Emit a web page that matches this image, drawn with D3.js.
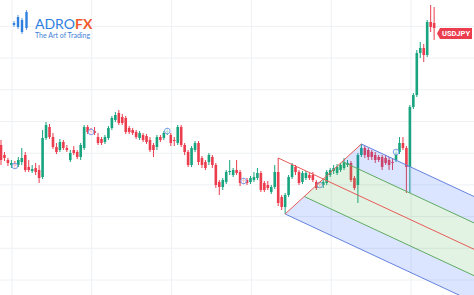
<!DOCTYPE html>
<html>
<head>
<meta charset="utf-8">
<script src="https://cdn.jsdelivr.net/npm/d3@7"></script>
<style>
body { margin: 0; background: #fff; }
svg { display: block; }
</style>
</head>
<body>
<div id="chart"></div>
<script>
const W = 474, H = 295;

// USDJPY candles, oldest first
const open = [146.20,145.80,145.60,145.40,145.48,145.40,145.52,145.80,145.32,145.16,
  145.28,145.20,144.92,146.48,146.92,146.52,146.12,146.00,146.32,146.08,
  145.60,146.00,145.92,145.72,146.08,146.92,146.76,146.76,146.52,146.44,
  146.32,146.48,146.88,147.20,147.48,147.32,147.28,146.88,146.80,146.72,
  146.48,146.60,146.56,146.40,146.20,146.12,146.52,146.48,146.72,146.60,
  146.40,146.28,146.92,146.20,145.92,145.40,146.00,146.28,145.68,145.52,
  145.52,145.72,145.40,144.72,144.52,144.72,145.12,145.00,145.20,145.12,
  144.80,144.80,144.72,144.80,144.88,145.08,144.68,144.60,144.32,144.52,
  145.12,144.12,143.72,144.20,144.92,145.32,145.12,144.72,144.88,145.00,
  145.00,144.72,144.64,144.60,144.68,145.00,145.16,145.08,145.20,145.28,
  145.40,145.48,144.88,144.60,145.80,146.08,146.00,145.92,145.80,145.72,
  145.72,145.68,145.60,145.52,145.60,145.92,146.28,146.08,145.32,147.72,
  148.20,149.88,150.08,149.80,151.12,151.08];
const high = [146.40,145.92,145.68,145.60,145.56,145.72,146.08,145.92,145.60,145.40,
  145.48,145.40,146.80,147.12,147.04,146.68,146.28,146.44,146.40,146.20,
  146.00,146.16,146.00,146.28,147.00,147.00,146.88,146.92,146.68,146.52,
  146.60,146.96,147.36,147.52,147.60,147.44,147.36,146.96,146.88,146.80,
  146.76,146.68,146.64,146.52,146.28,146.60,146.60,146.76,146.88,146.68,
  146.52,147.00,147.00,146.28,146.00,146.16,146.36,146.36,145.76,145.60,
  145.88,145.80,145.48,144.80,144.88,145.20,145.60,145.28,145.60,145.20,
  144.88,144.88,144.96,145.12,145.28,145.16,144.76,144.76,144.60,145.40,
  145.68,144.20,144.28,145.00,145.48,145.40,145.20,145.16,145.16,145.08,
  145.12,144.80,144.72,144.80,145.20,145.28,145.40,145.44,145.48,145.68,
  145.60,145.56,144.96,145.88,146.24,146.16,146.08,146.00,145.92,145.80,
  145.80,145.80,145.72,145.68,146.00,146.52,146.52,146.16,147.80,148.28,
  150.00,150.32,150.24,151.20,151.80,151.72];
const low = [145.40,145.56,145.36,145.28,145.24,145.32,145.40,145.12,145.12,145.08,
  145.00,144.68,144.84,146.40,146.44,146.04,145.84,145.92,146.00,145.92,
  145.52,145.80,145.64,145.60,146.00,146.64,146.64,146.60,146.20,146.20,
  146.24,146.40,146.80,147.12,147.00,147.00,146.64,146.64,146.60,146.44,
  146.40,146.32,146.24,145.92,145.72,146.00,146.32,146.40,146.60,146.16,
  146.16,146.20,146.12,145.80,145.32,145.32,145.92,145.40,145.28,145.20,
  145.40,145.28,144.48,144.20,144.40,144.64,145.00,144.92,145.00,144.56,
  144.64,144.60,144.64,144.72,144.80,144.32,144.32,144.40,144.24,144.44,
  143.76,143.60,143.44,144.12,144.84,145.00,144.60,144.64,144.80,144.80,
  144.72,144.40,144.52,144.48,144.60,144.92,145.04,145.00,145.12,145.20,
  145.32,144.72,144.40,143.88,145.72,145.68,145.60,145.60,145.48,145.52,
  145.20,145.40,145.20,145.20,145.52,145.84,146.00,144.28,144.28,147.64,
  148.12,149.68,149.52,149.72,150.72,150.40];
const close = [145.60,145.68,145.48,145.48,145.36,145.60,145.68,145.20,145.20,145.24,
  145.12,144.88,146.48,147.00,146.52,146.12,145.92,146.32,146.08,146.00,
  145.88,145.88,145.72,146.20,146.92,146.72,146.72,146.68,146.28,146.28,
  146.52,146.88,147.28,147.40,147.08,147.08,146.72,146.72,146.68,146.52,
  146.68,146.40,146.32,146.00,146.00,146.52,146.40,146.68,146.76,146.28,
  146.36,146.92,146.20,145.92,145.40,146.08,146.28,145.52,145.40,145.28,
  145.80,145.40,144.60,144.52,144.80,145.12,145.16,145.20,145.08,144.68,
  144.76,144.68,144.88,144.92,145.08,144.40,144.40,144.48,144.52,145.12,
  143.88,143.72,144.20,144.92,145.40,145.12,144.68,145.08,145.08,144.88,
  144.80,144.48,144.60,144.72,145.12,145.20,145.28,145.32,145.40,145.52,
  145.48,144.80,144.48,145.80,146.08,145.80,145.72,145.72,145.60,145.60,
  145.32,145.48,145.40,145.48,145.92,146.28,146.08,145.32,147.72,148.20,
  149.88,150.08,149.80,151.12,150.92,150.88];

// small event markers (candle index)
const markerIdx = [4, 26, 48, 70, 92, 114];

// pitchfork anchors: handle, low, high
const forkIdx = [80, 82, 104];
const forkPrice = [145.68, 143.44, 146.24];

const symbol = 'USDJPY';
const brand = ['ADRO', 'FX'];
const tagline = 'The Art of Trading';

const UP = '#17a47f', DOWN = '#ec3d4f';

const svg = d3.select('#chart').append('svg')
  .attr('width', W).attr('height', H);

const x = d3.scaleLinear().domain([0, open.length - 1]).range([1, 1 + (open.length - 1) * 3.465]);
const y = d3.scaleLinear().domain([152, 140.2]).range([0, H]);

// grid
const grid = svg.append('g').attr('stroke', '#eef0f3').attr('stroke-width', 1);
d3.range(12, W, 79.8).forEach(gx => {
  grid.append('line').attr('x1', gx).attr('x2', gx).attr('y1', 0).attr('y2', H);
});
d3.range(280, 0, -31.7).forEach(gy => {
  grid.append('line').attr('x1', 0).attr('x2', W).attr('y1', gy).attr('y2', gy);
});

// candles
const data = open.map((o, i) => ({ i: i, o: o, h: high[i], l: low[i], c: close[i] }));
const candles = svg.append('g').selectAll('g').data(data).join('g')
  .attr('fill', d => d.c >= d.o ? UP : DOWN)
  .attr('stroke', d => d.c >= d.o ? UP : DOWN);
candles.append('line')
  .attr('x1', d => x(d.i)).attr('x2', d => x(d.i))
  .attr('y1', d => y(d.h)).attr('y2', d => y(d.l))
  .attr('stroke-width', 1);
candles.append('rect')
  .attr('stroke', 'none')
  .attr('x', d => x(d.i) - 1.3).attr('width', 2.6)
  .attr('y', d => y(Math.max(d.o, d.c)))
  .attr('height', d => Math.max(1, Math.abs(y(d.o) - y(d.c))));

// markers
svg.append('g').selectAll('circle').data(markerIdx).join('circle')
  .attr('cx', i => x(i)).attr('cy', i => y(close[i])).attr('r', 2.8)
  .attr('fill', '#fff').attr('fill-opacity', 0.7)
  .attr('stroke', '#7d9fe6').attr('stroke-width', 1);

// pitchfork
const P = forkIdx.map((fi, k) => [x(fi), y(forkPrice[k])]);
const p1 = P[0], p2 = P[1], p3 = P[2];
const mid = (a, b) => [(a[0] + b[0]) / 2, (a[1] + b[1]) / 2];
const m = mid(p2, p3);
const slope = (m[1] - p1[1]) / (m[0] - p1[0]);
const XE = W + 40;
const ext = q => [XE, q[1] + slope * (XE - q[0])];
const qu = mid(m, p3), ql = mid(m, p2);

const fork = svg.append('g');
const band = (a, b, col) => fork.append('path')
  .attr('d', d3.line()([a, ext(a), ext(b), b]))
  .attr('fill', col).attr('stroke', 'none');
band(p3, qu, 'rgba(41,98,255,0.17)');
band(qu, m, 'rgba(76,175,80,0.16)');
band(m, ql, 'rgba(76,175,80,0.16)');
band(ql, p2, 'rgba(41,98,255,0.17)');

const seg = (a, b, col) => fork.append('line')
  .attr('x1', a[0]).attr('y1', a[1]).attr('x2', b[0]).attr('y2', b[1])
  .attr('stroke', col).attr('stroke-width', 1);
seg(p3, ext(p3), '#6482de');
seg(p2, ext(p2), '#6482de');
seg(qu, ext(qu), '#5fab63');
seg(ql, ext(ql), '#5fab63');
seg(p1, ext(p1), '#e65b57');
seg(p2, p3, '#e65b57');

// symbol tag
const tagY = 28;
svg.append('path')
  .attr('d', d3.line()([[437, tagY + 5.5], [440, tagY], [472, tagY], [472, tagY + 11], [440, tagY + 11]]))
  .attr('fill', DOWN);
svg.append('text')
  .attr('x', 456).attr('y', tagY + 8.3)
  .attr('text-anchor', 'middle')
  .attr('font-family', 'Roboto, sans-serif').attr('font-size', 7.5).attr('font-weight', 700)
  .attr('fill', '#fff').text(symbol);

// logo
const logo = svg.append('g').attr('fill', '#2f7fe0').attr('stroke', '#2f7fe0');
const bars = [[14, 21, 27], [18, 15, 29], [22, 18, 34], [26.5, 10, 30]];
bars.forEach(b => {
  logo.append('rect').attr('stroke', 'none').attr('x', b[0] - 1.2).attr('y', b[1] + 2).attr('width', 2.4).attr('height', b[2] - b[1] - 4);
  logo.append('line').attr('stroke-width', 0.8).attr('x1', b[0]).attr('x2', b[0]).attr('y1', b[1]).attr('y2', b[2]);
});
const t = svg.append('text')
  .attr('x', 35).attr('y', 28.5)
  .attr('font-family', 'Lato, sans-serif').attr('font-size', 14).attr('font-weight', 400);
t.append('tspan').attr('fill', '#2f7fe0').text(brand[0]);
t.append('tspan').attr('fill', '#f1592a').attr('font-weight', 700).text(brand[1]);
svg.append('text')
  .attr('x', 35).attr('y', 37.5)
  .attr('font-family', 'Lato, sans-serif').attr('font-size', 7)
  .attr('fill', '#3f7fd8').text(tagline);
</script>
</body>
</html>
